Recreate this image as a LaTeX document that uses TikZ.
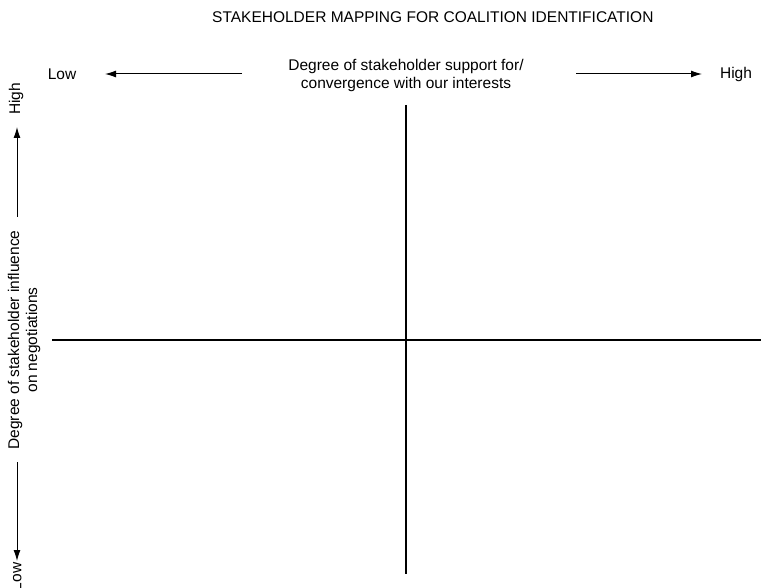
\documentclass[tikz,border=0pt]{standalone}
\usepackage{fontspec}
\setmainfont{Liberation Sans}
\usetikzlibrary{arrows.meta}

\begin{document}
\begin{tikzpicture}[x=1pt,y=-1pt,>={Latex[length=11pt,width=7pt]},
  label/.style={font=\fontsize{15.5}{18}\selectfont, inner sep=0pt, align=center},
  axis/.style={line width=1.8pt},
  pointer/.style={->, line width=1pt}]

\useasboundingbox (0,0) rectangle (763,588);

\node[label, anchor=west] (title) at (212,17) {STAKEHOLDER MAPPING FOR COALITION IDENTIFICATION};

% horizontal scale
\node[label] (support) at (406,75) {Degree of stakeholder support for/\\convergence with our interests};
\node[label] (xlow) at (62,74) {Low};
\node[label] (xhigh) at (736,74) {High};
\coordinate (xlowstart) at (242,74);
\coordinate (xlowend) at (105,74);
\coordinate (xhighstart) at (576,74);
\coordinate (xhighend) at (702,74);
\draw[pointer] (xlowstart)--(xlowend);
\draw[pointer] (xhighstart)--(xhighend);

% vertical scale
\node[label, rotate=90] (influence) at (24,340) {Degree of stakeholder influence\\on negotiations};
\node[label, rotate=90] (yhigh) at (16,99) {High};
\node[label, rotate=90] (ylow) at (16,577) {Low};
\coordinate (yhighstart) at (17,217);
\coordinate (yhighend) at (17,127);
\coordinate (ylowstart) at (17,462);
\coordinate (ylowend) at (17,561);
\draw[pointer] (yhighstart)--(yhighend);
\draw[pointer] (ylowstart)--(ylowend);

% quadrants
\coordinate (top) at (406,105);
\coordinate (bottom) at (406,574);
\coordinate (left) at (52,340);
\coordinate (right) at (761,340);
\draw[axis] (top)--(bottom);
\draw[axis] (left)--(right);

\end{tikzpicture}
\end{document}
